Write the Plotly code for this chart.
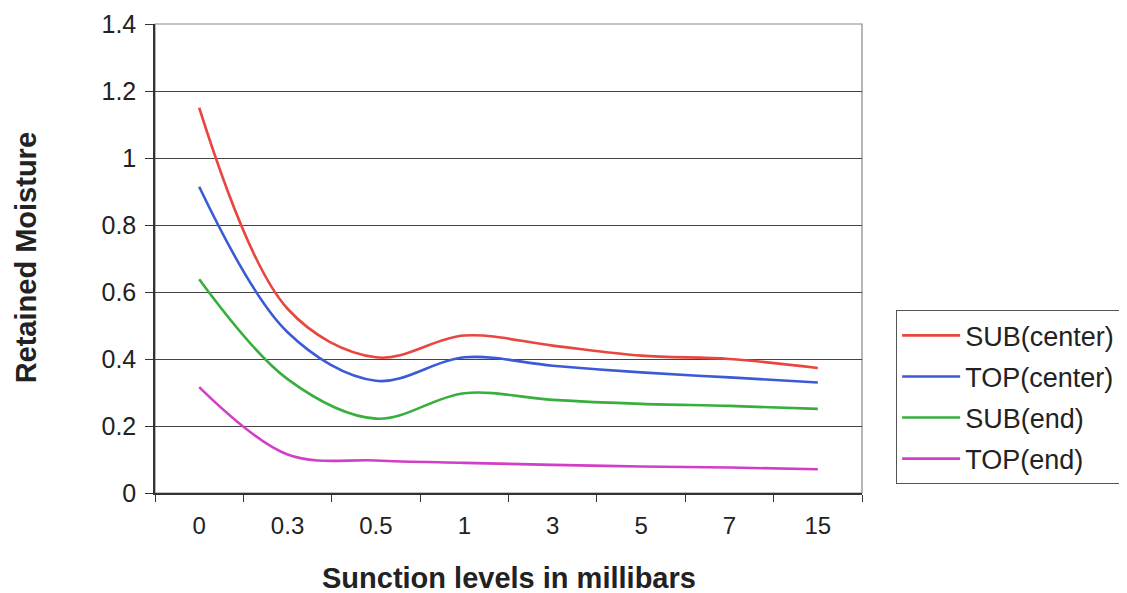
import plotly.graph_objects as go

categories = ["0", "0.3", "0.5", "1", "3", "5", "7", "15"]
sub_center = [1.15, 0.55, 0.405, 0.47, 0.44, 0.41, 0.40, 0.373]
top_center = [0.914, 0.48, 0.335, 0.405, 0.38, 0.36, 0.345, 0.33]
sub_end = [0.638, 0.34, 0.222, 0.298, 0.278, 0.266, 0.26, 0.251]
top_end = [0.316, 0.115, 0.097, 0.09, 0.084, 0.079, 0.076, 0.071]
y_ticks = [0, 0.2, 0.4, 0.6, 0.8, 1, 1.2, 1.4]
y_tick_text = ["0", "0.2", "0.4", "0.6", "0.8", "1", "1.2", "1.4"]

series = [
    ("SUB(center)", sub_center, "#E8463E"),
    ("TOP(center)", top_center, "#3A5AD6"),
    ("SUB(end)", sub_end, "#38AE3C"),
    ("TOP(end)", top_end, "#D23FC6"),
]

FONT = "Liberation Sans, Arial, sans-serif"

fig = go.Figure()
for i, (name, vals, color) in enumerate(series):
    fig.add_trace(go.Scatter(
        x=categories, y=vals, name=name, mode="lines",
        line=dict(color=color, width=2.6, shape="spline", smoothing=1.0),
        legendgroup=f"g{i}",
    ))

fig.update_layout(
    width=1119, height=585,
    margin=dict(l=147, r=265, t=16, b=100, autoexpand=False),
    paper_bgcolor="white", plot_bgcolor="white",
    font=dict(family=FONT, color="#222222"),
    showlegend=True,
    legend=dict(
        x=1.048, y=0.39, xanchor="left", yanchor="top",
        font=dict(family=FONT, size=27, color="#222222"),
        bordercolor="#555555", borderwidth=1.2, bgcolor="white",
        traceorder="grouped", tracegroupgap=3, itemwidth=58,
    ),
    xaxis=dict(
        type="category", range=[-0.5, 7.5], automargin=False,
        showgrid=False, showline=True, linecolor="#333333", linewidth=1.5,
        ticks="outside", tickson="boundaries", ticklen=7, tickcolor="#333333",
        tickfont=dict(family=FONT, size=24, color="#222222"),
        ticklabelstandoff=10,
        zeroline=False,
    ),
    yaxis=dict(
        range=[0, 1.4], tickvals=y_ticks, ticktext=y_tick_text, automargin=False,
        showgrid=True, gridcolor="#444444", gridwidth=1,
        showline=True, linecolor="#333333", linewidth=1.5,
        ticks="outside", ticklen=8, tickcolor="#333333",
        tickfont=dict(family=FONT, size=25, color="#222222"),
        ticklabelstandoff=4,
        zeroline=False,
    ),
    annotations=[
        dict(text="<b>Sunction levels in millibars</b>", xref="paper", yref="paper",
             x=0.5, y=-0.181, xanchor="center", yanchor="middle", showarrow=False,
             font=dict(family=FONT, size=29, color="#222222")),
        dict(text="<b>Retained Moisture</b>", xref="paper", yref="paper",
             x=-0.182, y=0.501, xanchor="center", yanchor="middle", showarrow=False,
             textangle=-90, font=dict(family=FONT, size=29, color="#222222")),
    ],
    shapes=[dict(type="rect", xref="paper", yref="paper", x0=0, y0=0, x1=1, y1=1,
                 line=dict(color="#888888", width=1.2), layer="below")],
)

fig.write_html("out.html")
